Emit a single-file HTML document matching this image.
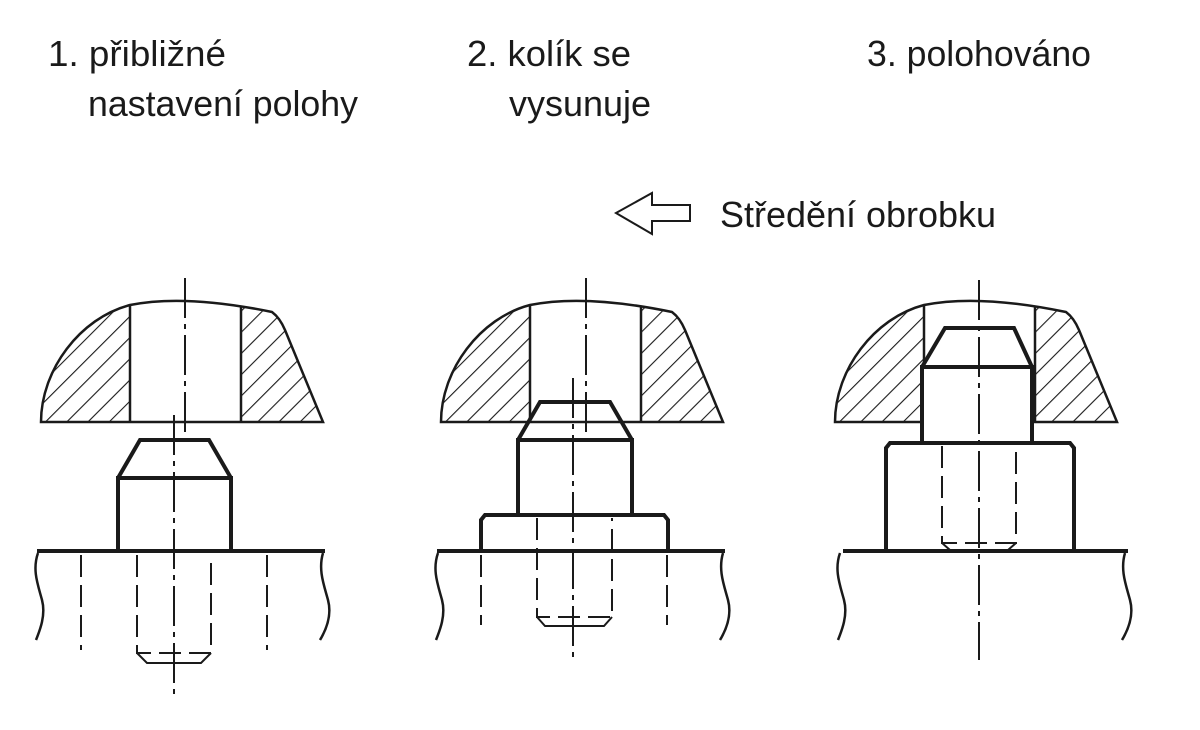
<!DOCTYPE html>
<html><head><meta charset="utf-8"><style>
html,body{margin:0;padding:0;background:#fff;}
svg{display:block;}
text{font-family:"Liberation Sans Narrow","Liberation Sans",sans-serif;font-size:36px;fill:#1a1a1a;}
</style></head><body>
<svg width="1200" height="730" viewBox="0 0 1200 730" xmlns="http://www.w3.org/2000/svg">
<defs>
<pattern id="h" width="15" height="15" patternUnits="userSpaceOnUse" patternTransform="rotate(45)">
<line x1="0" y1="0" x2="0" y2="15" stroke="#1a1a1a" stroke-width="2.2"/>
</pattern>
<clipPath id="kc"><path d="M41,422 C41,370 80,318 130,305 Q185,294 272,312 Q280,318 285,330 L323,422 Z"/></clipPath>
<clipPath id="lc"><rect x="0" y="280" width="130" height="150"/></clipPath>
<clipPath id="rc"><rect x="241" y="280" width="100" height="150"/></clipPath>
<g id="knob">
<g clip-path="url(#lc)"><rect x="0" y="280" width="400" height="150" fill="url(#h)" clip-path="url(#kc)"/></g>
<g clip-path="url(#rc)"><rect x="0" y="280" width="400" height="150" fill="url(#h)" clip-path="url(#kc)"/></g>
<path d="M41,422 C41,370 80,318 130,305 Q185,294 272,312 Q280,318 285,330 L323,422 Z" fill="none" stroke="#1a1a1a" stroke-width="2.5"/>
<line x1="130" y1="305" x2="130" y2="422" stroke="#1a1a1a" stroke-width="2.5"/>
<line x1="241" y1="306" x2="241" y2="422" stroke="#1a1a1a" stroke-width="2.5"/>
</g>
<g id="wavy" fill="none" stroke="#1a1a1a" stroke-width="2.5">
<path d="M38,553 C32,570 38,585 42,600 C46,615 40,630 36,640"/>
<path d="M323,553 C318,570 324,585 328,600 C332,615 326,630 320,640"/>
</g>
</defs>
<text x="48" y="66" textLength="178" lengthAdjust="spacingAndGlyphs">1. přibližné</text>
<text x="88" y="116" textLength="270" lengthAdjust="spacingAndGlyphs">nastavení polohy</text>
<text x="467" y="66" textLength="164" lengthAdjust="spacingAndGlyphs">2. kolík se</text>
<text x="509" y="116" textLength="142" lengthAdjust="spacingAndGlyphs">vysunuje</text>
<text x="867" y="66" textLength="224" lengthAdjust="spacingAndGlyphs">3. polohováno</text>
<text x="720" y="227" textLength="276" lengthAdjust="spacingAndGlyphs">Středění obrobku</text>
<path d="M616,213 L652,193 L652,205 L690,205 L690,221 L652,221 L652,234 Z" fill="none" stroke="#1a1a1a" stroke-width="2"/>

<!-- Panel 1 -->
<use href="#knob"/>
<use href="#wavy"/>
<g stroke="#1a1a1a" fill="none">
<line x1="185" y1="278" x2="185" y2="433" stroke-width="2" stroke-dasharray="40,6,5,6"/>
<line x1="37" y1="551" x2="325" y2="551" stroke-width="4"/>
<path d="M118,551 L118,478 L231,478 L231,551 M118,478 L140,440 L209,440 L231,478" stroke-width="4" stroke-linejoin="miter"/>
<line x1="174" y1="415" x2="174" y2="695" stroke-width="2" stroke-dasharray="40,6,5,6"/>
<line x1="81" y1="555" x2="81" y2="650" stroke-width="2" stroke-dasharray="22,8"/>
<line x1="267" y1="555" x2="267" y2="650" stroke-width="2" stroke-dasharray="22,8"/>
<path d="M137,555 L137,653 L211,653 L211,555" stroke-width="2" stroke-dasharray="22,8"/>
<path d="M137,653 L147,663 L201,663 L211,653" stroke-width="2"/>
</g>

<!-- Panel 2 -->
<use href="#knob" x="400"/>
<use href="#wavy" x="400"/>
<g stroke="#1a1a1a" fill="none">
<line x1="586" y1="278" x2="586" y2="433" stroke-width="2" stroke-dasharray="40,6,5,6"/>
<line x1="437" y1="551" x2="725" y2="551" stroke-width="4"/>
<path d="M518,515 L518,440 L632,440 L632,515 M518,440 L540,402 L610,402 L632,440" stroke-width="4"/>
<path d="M481,551 L481,520 L485,515 L664,515 L668,520 L668,551" stroke-width="4"/>
<line x1="573" y1="378" x2="573" y2="660" stroke-width="2" stroke-dasharray="40,6,5,6"/>
<line x1="481" y1="555" x2="481" y2="625" stroke-width="2" stroke-dasharray="22,8"/>
<line x1="667" y1="555" x2="667" y2="625" stroke-width="2" stroke-dasharray="22,8"/>
<path d="M537,518 L537,617 L612,617 L612,518" stroke-width="2" stroke-dasharray="22,8"/>
<path d="M537,617 L545,626 L604,626 L612,617" stroke-width="2"/>
</g>

<!-- Panel 3 -->
<use href="#knob" x="794"/>
<use href="#wavy" x="802"/>
<g stroke="#1a1a1a" fill="none">
<line x1="843" y1="551" x2="1128" y2="551" stroke-width="4"/>
<rect x="922" y="367" width="110" height="73" fill="#fff" stroke="none"/>
<path d="M922,443 L922,367 L1032,367 L1032,443 M922,367 L945,328 L1014,328 L1032,367" stroke-width="4"/>
<path d="M886,551 L886,448 L890,443 L1070,443 L1074,448 L1074,551" stroke-width="4"/>
<line x1="979" y1="280" x2="979" y2="660" stroke-width="2" stroke-dasharray="40,6,5,6"/>
<path d="M942,446 L942,543 L1016,543 L1016,446" stroke-width="2" stroke-dasharray="22,8"/>
<path d="M942,543 L950,550 L1008,550 L1016,543" stroke-width="2"/>
</g>
</svg>
</body></html>
